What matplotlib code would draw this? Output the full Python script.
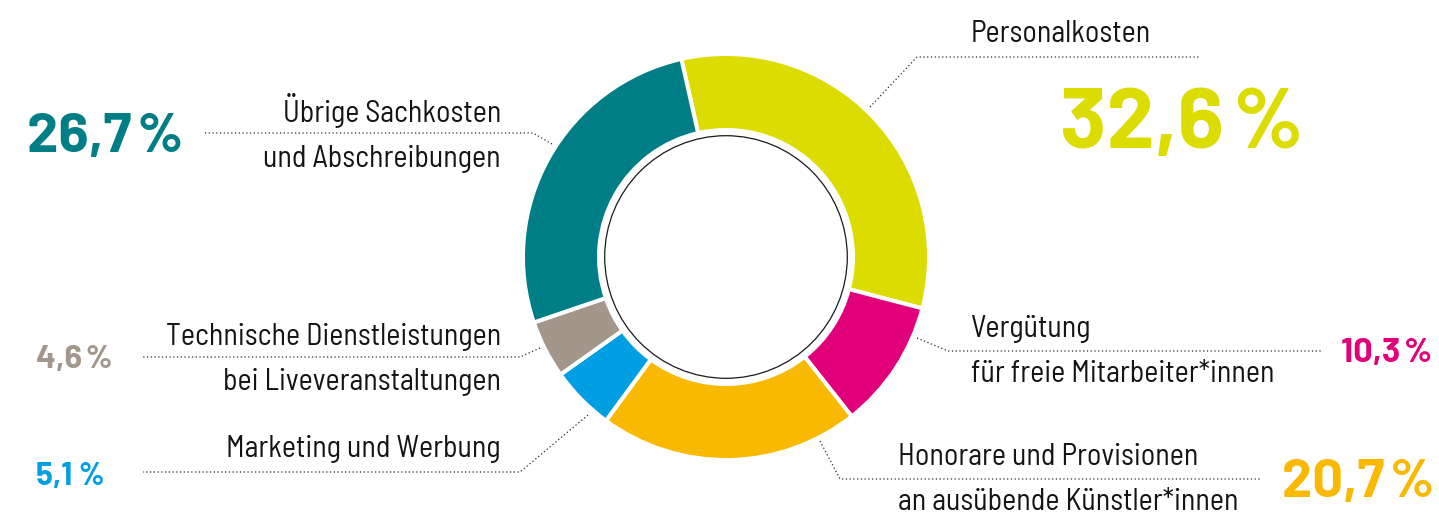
import matplotlib
matplotlib.use("Agg")
import matplotlib.pyplot as plt
from matplotlib import font_manager as fm
from matplotlib.patches import Circle

# ---- data ----
categories = [
    "Personalkosten",
    "Vergütung\nfür freie Mitarbeiter*innen",
    "Honorare und Provisionen\nan ausübende Künstler*innen",
    "Marketing und Werbung",
    "Technische Dienstleistungen\nbei Liveveranstaltungen",
    "Übrige Sachkosten\nund Abschreibungen",
]
shares = [32.6, 10.3, 20.7, 5.1, 4.6, 26.7]
pct_labels = ["32,6\u200a%", "10,3\u200a%", "20,7\u200a%", "5,1\u2009%", "4,6\u200a%", "26,7\u200a%"]
colors = ["#DDDC00", "#E2007A", "#F9B900", "#009FE3", "#A2978A", "#007E85"]

# ---- layout (pixel coordinates, y measured from top) ----
W, H = 1439, 513
CX, CY = 726, 257
R_OUT, R_IN, R_RING = 201, 129, 121.3
GAP = 4.0  # px

names = {f.name for f in fm.fontManager.ttflist}
if "Barlow Semi Condensed" in names:
    LABEL_FONT = dict(family=["Barlow Semi Condensed", "DejaVu Sans"])
    LABEL_SIZE = 21.6
elif "Barlow Condensed" in names:
    LABEL_FONT = dict(family=["Barlow Condensed", "DejaVu Sans"])
    LABEL_SIZE = 23.5
else:
    LABEL_FONT = dict(family=["DejaVu Sans"], fontstretch="condensed")
    LABEL_SIZE = 19
PCT_FAMILY = ["Barlow", "Roboto", "DejaVu Sans"] if "Barlow" in names else ["Roboto", "DejaVu Sans"]

# label: (x, first baseline, ha)
label_pos = [
    (971, 42, "left"),
    (971, 337, "left"),
    (898, 465, "left"),
    (501, 457, "right"),
    (501, 345, "right"),
    (501, 122, "right"),
]
line_step = 45
# percent: (x, baseline, ha, size pt)
pct_pos = [
    (1060, 148, "left", 62),
    (1341, 362, "left", 24.7),
    (1282, 497, "left", 39),
    (36, 485, "left", 22.6),
    (36, 368, "left", 23.6),
    (27, 152, "left", 40.5),
]
leaders = [
    [(870, 107), (917, 57), (1199, 57)],
    [(917, 338), (948, 351), (1322, 351)],
    [(820, 441), (840, 479), (1262, 479)],
    [(588, 415), (520, 472), (143, 472)],
    [(540, 348), (520, 357), (143, 357)],
    [(552, 144), (533, 133), (203, 133)],
]

fig = plt.figure(figsize=(W / 100, H / 100), dpi=100)
ax = fig.add_axes([0, 0, 1, 1])
lw_pt = GAP * 72 / 100

# Personalkosten starts ~12.7 deg left of top and runs clockwise
ax.pie(shares, colors=colors, startangle=102.7, counterclock=False,
       center=(CX, H - CY), radius=R_OUT + GAP / 2,
       wedgeprops=dict(width=R_OUT - R_IN + GAP, edgecolor="white", linewidth=lw_pt))
ax.add_patch(Circle((CX, H - CY), R_RING, fill=False, edgecolor="#1a1a1a", linewidth=0.9))

ax.set_xlim(0, W)
ax.set_ylim(0, H)
ax.set_aspect("equal")
ax.axis("off")

for cat, (x, yb, ha), col in zip(categories, label_pos, colors):
    for i, line in enumerate(cat.split("\n")):
        ax.text(x, H - (yb + i * line_step), line, ha=ha, va="baseline",
                fontsize=LABEL_SIZE, color="#141414", **LABEL_FONT)

for lab, (x, yb, ha, sz), col in zip(pct_labels, pct_pos, colors):
    ax.text(x, H - yb, lab, ha=ha, va="baseline", fontsize=sz, color=col,
            fontweight="bold", family=PCT_FAMILY)

for pts in leaders:
    xs = [p[0] for p in pts]
    ys = [H - p[1] for p in pts]
    ax.plot(xs, ys, color="#2a2a2a", linewidth=0.9, linestyle=(0, (1, 2)),
            solid_capstyle="butt", dash_capstyle="butt")

fig.savefig("out.png", dpi=100, facecolor="white")
